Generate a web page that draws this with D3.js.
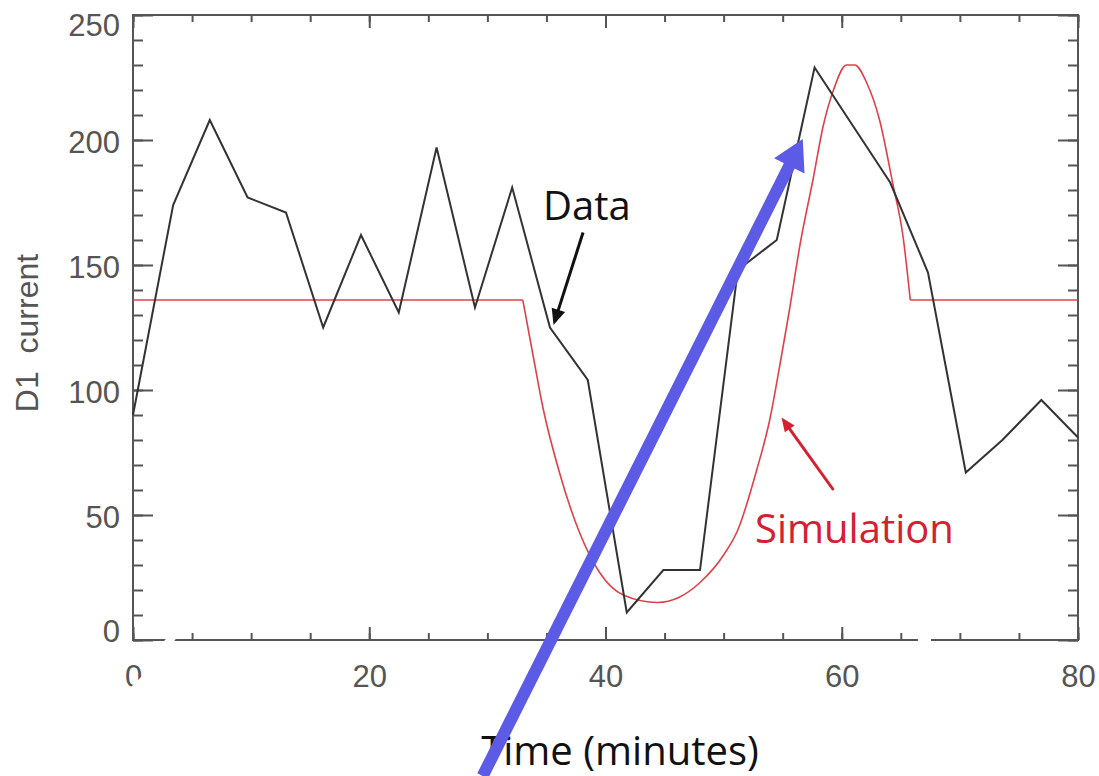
<!DOCTYPE html>
<html>
<head>
<meta charset="utf-8">
<script src="https://cdn.jsdelivr.net/npm/d3@7"></script>
<style>
  body { margin: 0; background: #fff; }
  svg { display: block; }
</style>
</head>
<body>
<div id="chart"></div>
<script>
// measured data (black line)
var dataTime = [0, 3.4, 6.5, 9.7, 12.95, 16.1, 19.3, 22.5, 25.7, 28.95, 32.1, 35.3, 38.5, 41.8,
                44.9, 48, 51.2, 54.5, 57.7, 60.9, 64.1, 67.3, 70.5, 73.6, 76.9, 80];
var dataCurrent = [90, 174, 208, 177, 171, 125, 162, 131, 197, 133, 181, 125, 104, 11,
                   28, 28, 148, 160, 229, 206, 183, 147, 67, 80, 96, 81];

// simulation (red line)
var simTime = [0, 33.0, 33.9, 34.7, 36.1, 37.8, 39.5, 41.5, 44.4, 46.2, 48.0, 50.0, 51.2,
               52.8, 53.9, 54.8, 55.5, 56.5, 57.6, 58.4, 59.3, 60.4, 61.1, 62.1, 63.2, 64.3,
               65.2, 65.8, 80];
var simCurrent = [136, 136, 113, 93, 67, 43, 27, 18, 15, 17, 23, 34, 44,
                  68, 88, 111, 130, 159, 185, 205, 220, 230, 230, 223, 208, 183,
                  161, 136, 136];

var xTicks = [0, 20, 40, 60, 80],
    xMinor = d3.range(0, 81, 5),
    yTicks = [0, 50, 100, 150, 200, 250],
    yMinor = d3.range(0, 251, 10);

var width = 1099, height = 776;
var svg = d3.select("#chart").append("svg")
    .attr("width", width).attr("height", height);

var x = d3.scaleLinear().domain([0, 80]).range([133, 1078]);
var y = d3.scaleLinear().domain([0, 250]).range([640, 15]);

var axisColor = "#555";
var tickFont = "'Liberation Sans', Arial, sans-serif";

// minor ticks, all four sides
svg.append("g").attr("transform", "translate(0," + y(0) + ")")
  .call(d3.axisBottom(x).tickValues(xMinor).tickSize(-7).tickFormat(""));
svg.append("g").attr("transform", "translate(0," + y(250) + ")")
  .call(d3.axisTop(x).tickValues(xMinor).tickSize(-7).tickFormat(""));
svg.append("g").attr("transform", "translate(" + x(0) + ",0)")
  .call(d3.axisLeft(y).tickValues(yMinor).tickSize(-10).tickFormat(""));
svg.append("g").attr("transform", "translate(" + x(80) + ",0)")
  .call(d3.axisRight(y).tickValues(yMinor).tickSize(-10).tickFormat(""));

// major ticks
svg.append("g").attr("transform", "translate(0," + y(0) + ")")
  .call(d3.axisBottom(x).tickValues(xTicks).tickSize(-13).tickPadding(25));
svg.append("g").attr("transform", "translate(0," + y(250) + ")")
  .call(d3.axisTop(x).tickValues(xTicks).tickSize(-13).tickFormat(""));
var gy = svg.append("g").attr("transform", "translate(" + x(0) + ",0)")
  .call(d3.axisLeft(y).tickValues(yTicks).tickSize(-20).tickPadding(13));
svg.append("g").attr("transform", "translate(" + x(80) + ",0)")
  .call(d3.axisRight(y).tickValues(yTicks).tickSize(-20).tickFormat(""));

svg.selectAll(".domain").remove();
svg.selectAll(".tick line").attr("stroke", axisColor).attr("stroke-width", 2);
svg.selectAll(".tick text")
  .attr("fill", axisColor)
  .style("font-family", tickFont)
  .style("font-size", "31px");

// end labels sit inside the axis range, like the original plot
gy.selectAll(".tick text")
  .attr("y", function(d) { return d === 250 ? 11 : (d === 0 ? -8 : 3); });

// frame
svg.append("rect")
  .attr("x", x(0)).attr("y", y(250))
  .attr("width", x(80) - x(0)).attr("height", y(0) - y(250))
  .attr("fill", "none").attr("stroke", axisColor).attr("stroke-width", 2);

// y label
svg.append("text")
  .attr("transform", "translate(38,333) rotate(-90)")
  .attr("text-anchor", "middle")
  .attr("fill", axisColor)
  .style("font-family", tickFont)
  .style("font-size", "32px")
  .style("white-space", "pre")
  .text("D1  current");

// x label
svg.append("text")
  .attr("x", 620).attr("y", 765)
  .attr("text-anchor", "middle")
  .attr("fill", "#111")
  .style("font-family", "'Open Sans', sans-serif")
  .style("font-size", "40px")
  .text("Time (minutes)");

var line = d3.line()
  .x(function(d) { return x(d[0]); })
  .y(function(d) { return y(d[1]); });

// simulation: flat parts straight, the wave smooth
var sim = d3.zip(simTime, simCurrent);
var n = sim.length;
[sim.slice(0, 2), sim.slice(n - 2)].forEach(function(seg) {
  svg.append("path")
    .datum(seg)
    .attr("fill", "none")
    .attr("stroke", "#e0404a")
    .attr("stroke-width", 1.6)
    .attr("d", line.curve(d3.curveLinear));
});
svg.append("path")
  .datum(sim.slice(1, n - 1))
  .attr("fill", "none")
  .attr("stroke", "#e0404a")
  .attr("stroke-width", 1.6)
  .attr("d", line.curve(d3.curveMonotoneX));

// data
svg.append("path")
  .datum(d3.zip(dataTime, dataCurrent))
  .attr("fill", "none")
  .attr("stroke", "#333")
  .attr("stroke-width", 2)
  .attr("d", line.curve(d3.curveLinear));

// arrow helper, tail/tip given in data units
function arrow(tail, tip, color, w, headLen, headHalf) {
  var x0 = x(tail[0]), y0 = y(tail[1]), x1 = x(tip[0]), y1 = y(tip[1]);
  var dx = x1 - x0, dy = y1 - y0, len = Math.sqrt(dx * dx + dy * dy);
  var ux = dx / len, uy = dy / len, nx = -uy, ny = ux;
  var bx = x1 - headLen * ux, by = y1 - headLen * uy;
  svg.append("line")
    .attr("x1", x0).attr("y1", y0).attr("x2", bx + ux * 2).attr("y2", by + uy * 2)
    .attr("stroke", color).attr("stroke-width", w);
  svg.append("polygon")
    .attr("points", [[x1, y1], [bx + headHalf * nx, by + headHalf * ny], [bx - headHalf * nx, by - headHalf * ny]].join(" "))
    .attr("fill", color);
}

// annotations
arrow([38.1, 163], [35.6, 126], "#111", 3, 16, 7);
arrow([59.3, 60], [54.9, 89], "#d42030", 3, 14, 6);

svg.append("text")
  .attr("x", 543).attr("y", 220)
  .attr("fill", "#111")
  .style("font-family", "'Open Sans', sans-serif")
  .style("font-size", "40px")
  .text("Data");

svg.append("text")
  .attr("x", 755).attr("y", 543)
  .attr("fill", "#d42030")
  .style("font-family", "'Open Sans', sans-serif")
  .style("font-size", "40px")
  .text("Simulation");

// white scratches in the original scan
svg.append("polygon").attr("points", "160,646 170,634 180,634 170,646").attr("fill", "#fff");
svg.append("rect").attr("x", 918).attr("y", 634).attr("width", 13).attr("height", 12).attr("fill", "#fff");
svg.append("polygon").attr("points", "128,690 142,676 146,680 132,694").attr("fill", "#fff");

// big blue arrow overlay
arrow([29.6, -54.4], [56.7, 200.4], "#5b5be6", 12, 30, 17);
</script>
</body>
</html>
